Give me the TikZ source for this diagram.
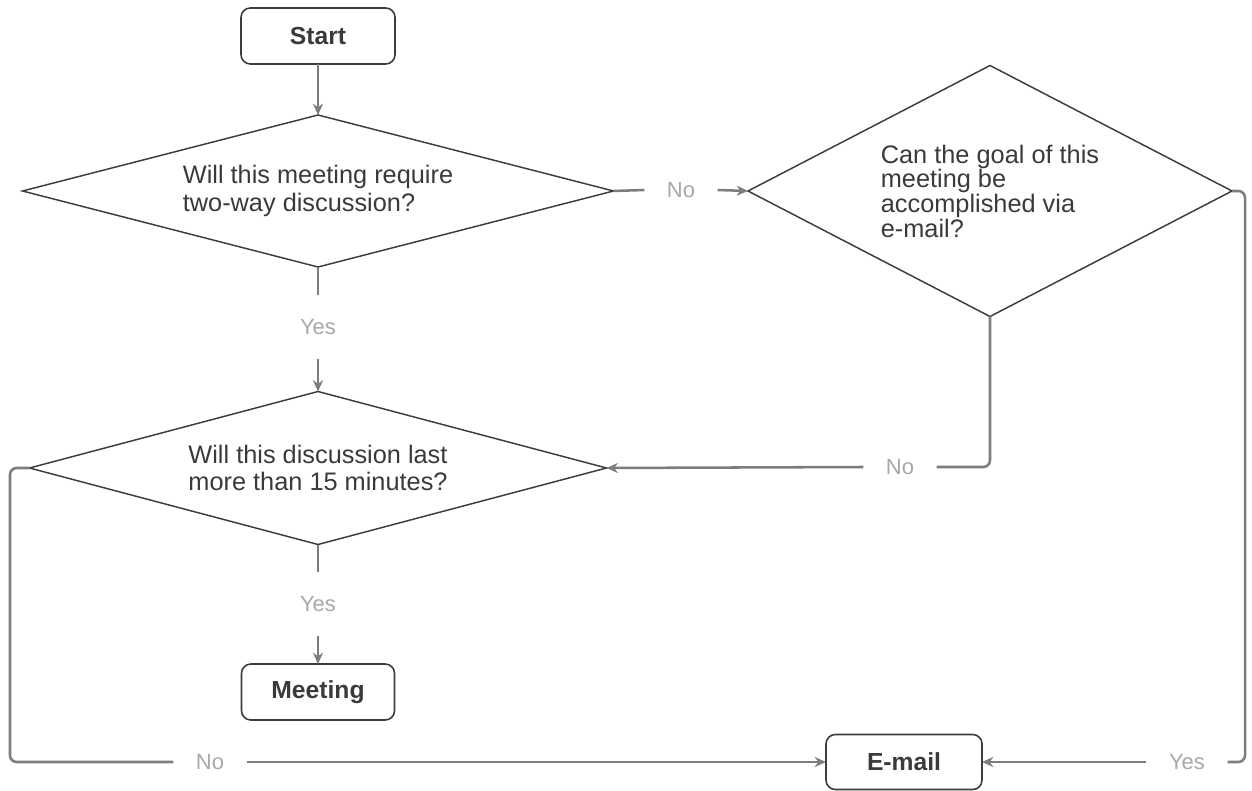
\documentclass[tikz,border=0pt]{standalone}
\usepackage{fontspec}
\setmainfont{Liberation Sans}
\usetikzlibrary{shapes.geometric,arrows.meta}
\definecolor{linegray}{HTML}{7D7D7D}
\definecolor{labelgray}{HTML}{A8A8A8}
\definecolor{bordergray}{HTML}{3C3C3C}
\definecolor{textgray}{HTML}{3A3A3A}
\tikzset{
  decision/.style={diamond, draw=bordergray, line width=1.1pt, inner sep=0pt, outer sep=0pt,
    align=left, text=textgray, font=\fontsize{19}{20.5}\selectfont},
  termbox/.style={rectangle, rounded corners=7pt, draw=bordergray, line width=1.2pt,
    inner sep=0pt, outer sep=0pt, text=textgray, font=\fontsize{18.5}{21}\selectfont\bfseries},
  lbl/.style={text=labelgray, font=\fontsize{16.5}{19}\selectfont, inner xsep=17pt, inner ysep=18pt, outer sep=0pt},
  conn/.style={draw=linegray, line width=1.9pt, rounded corners=5pt},
  arr/.style={conn, -{Stealth[length=8.5pt,width=7.5pt]}}
}
\begin{document}
\begin{tikzpicture}[x=0.75pt,y=-0.75pt]
\useasboundingbox (0,0) rectangle (1252,791);
% nodes
\node[termbox, minimum width=115.5pt, minimum height=42pt] (start) at (318,36) {Start};
\node[decision, shape aspect=3.89, minimum width=443.25pt, minimum height=114pt] (d1) at (318,191)
  {Will this meeting require\\two-way discussion?};
\node[decision, shape aspect=3.77, minimum width=432.75pt, minimum height=114.75pt] (d2) at (318,468)
  {Will this discussion last\\more than 15 minutes?};
\node[decision, shape aspect=1.93, font=\fontsize{19}{18.5}\selectfont, minimum width=363pt, minimum height=188.25pt] (d3) at (990,191)
  {Can the goal of this\\meeting be\\accomplished via\\e-mail?};
\node[termbox, minimum width=114.75pt, minimum height=42pt] (meeting) at (318,692) {Meeting};
\node[termbox, minimum width=117pt, minimum height=41.25pt] (email) at (904,762) {E-mail};
% labels
\node[lbl] (no1) at (681,190) {No};
\node[lbl] (yes1) at (318,327) {Yes};
\node[lbl] (no2) at (900,467) {No};
\node[lbl] (yes2) at (318,604) {Yes};
\node[lbl] (no3) at (210,762) {No};
\node[lbl] (yes3) at (1187,762) {Yes};
% connectors
\draw[arr] (start) -- (d1.north);
\draw[conn] (d1.east) -- (no1.west);
\draw[arr] (no1.east) -- (d3.west);
\draw[conn] (d1.south) -- (yes1.north);
\draw[arr] (yes1.south) -- (d2.north);
\draw[conn] (d2.south) -- (yes2.north);
\draw[arr] (yes2.south) -- (meeting.north);
\draw[conn] (d3.south) |- (no2.east);
\draw[arr] (no2.west) -- (d2.east);
\draw[conn] (d2.west) -- (10,468) |- (no3.west);
\draw[arr] (no3.east) -- (email.west);
\draw[conn] (d3.east) -- (1245,191) |- (yes3.east);
\draw[arr] (yes3.west) -- (email.east);
\end{tikzpicture}
\end{document}
